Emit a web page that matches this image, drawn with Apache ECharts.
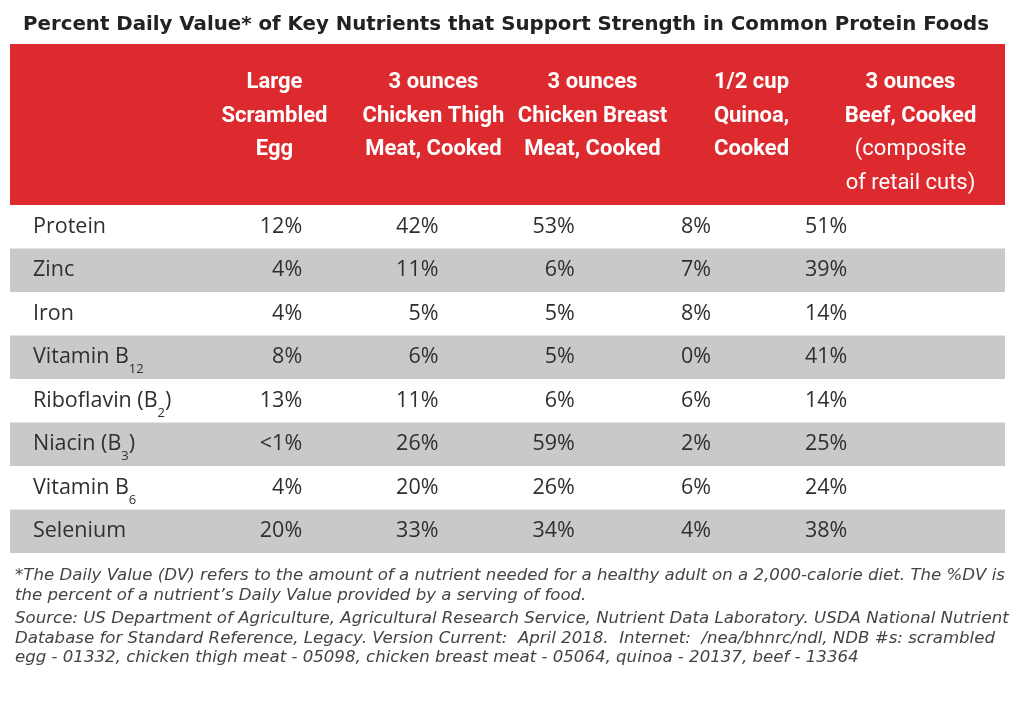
<!DOCTYPE html>
<html><head><meta charset="utf-8">
<script src="https://cdn.jsdelivr.net/npm/echarts@6/dist/echarts.min.js"></script>
<style>html,body{margin:0;padding:0;background:#fff}#c{width:1024px;height:716px}</style>
</head><body><div id="c"></div>
<script>
// ---- data ----
const titleText = 'Percent Daily Value* of Key Nutrients that Support Strength in Common Protein Foods';
const foods = ['Large\nScrambled\nEgg', '3 ounces\nChicken Thigh\nMeat, Cooked', '3 ounces\nChicken Breast\nMeat, Cooked', '1/2 cup\nQuinoa,\nCooked', '3 ounces\nBeef, Cooked'];
const foodNotes = ['', '', '', '', '(composite\nof retail cuts)'];
const nutrients = ['Protein', 'Zinc', 'Iron', 'Vitamin B_12', 'Riboflavin (B_2)', 'Niacin (B_3)', 'Vitamin B_6', 'Selenium'];
const egg    = [12, 4, 4, 8, 13, '<1', 4, 20];
const thigh  = [42, 11, 5, 6, 11, 26, 20, 33];
const breast = [53, 6, 5, 5, 6, 59, 26, 34];
const quinoa = [8, 7, 8, 0, 6, 2, 6, 4];
const beef   = [51, 39, 14, 41, 14, 25, 24, 38];
const footnote = '*The Daily Value (DV) refers to the amount of a nutrient needed for a healthy adult on a 2,000-calorie diet. The %DV is\nthe percent of a nutrient\u2019s Daily Value provided by a serving of food.';
const source = 'Source: US Department of Agriculture, Agricultural Research Service, Nutrient Data Laboratory. USDA National Nutrient\nDatabase for Standard Reference, Legacy. Version Current:  April 2018.  Internet:  /nea/bhnrc/ndl, NDB #s: scrambled\negg - 01332, chicken thigh meat - 05098, chicken breast meat - 05064, quinoa - 20137, beef - 13364';

// ---- build ----
const columns = [egg, thigh, breast, quinoa, beef];
const cells = [], cellTexts = [];
columns.forEach((col, i) => col.forEach((v, j) => { cells.push([i, j]); cellTexts.push(v + '%'); }));
const stripes = nutrients.map((n, j) => [0, j]);

const BODY_FONT = '"Open Sans", sans-serif';
const TITLE_FONT = '"DejaVu Sans", sans-serif';
const HEAD_FONT = 'Roboto, sans-serif';
const TEXT_COLOR = '#2f2f2f';
const RED = '#dd2a2f';
const GRAY = '#c8c9cb';

function nutrientLabel(v) {
  const parts = v.split('_');
  if (parts.length === 1) return '{n|' + v + '}';
  const m = parts[1].match(/^(\d+)(.*)$/);
  let s = '{n|' + parts[0] + '}{s|' + m[1] + '}';
  if (m[2]) s += '{n|' + m[2] + '}';
  return s;
}
function foodLabel(v, idx) {
  let s = v.split('\n').map(l => '{b|' + l + '}').join('\n');
  const note = foodNotes[idx];
  if (note) s += '\n' + note.split('\n').map(l => '{r|' + l + '}').join('\n');
  return s;
}

const chart = echarts.init(document.getElementById('c'), null, {renderer: 'canvas'});
chart.setOption({
  backgroundColor: '#fff',
  animation: false,
  title: [
    {text: titleText, left: 18, top: 10, textStyle: {fontFamily: TITLE_FONT, fontWeight: 'bold', fontSize: 19.8, color: '#222'}},
    {text: footnote, left: 10, top: 561, textStyle: {fontFamily: TITLE_FONT, fontStyle: 'italic', fontWeight: 'normal', fontSize: 16.6, lineHeight: 20, color: '#444'}},
    {text: source, left: 10, top: 604, textStyle: {fontFamily: TITLE_FONT, fontStyle: 'italic', fontWeight: 'normal', fontSize: 16.6, lineHeight: 19.5, color: '#444'}}
  ],
  grid: [
    {id: 'bg', left: 10, right: 19, top: 44, height: 161, show: true, backgroundColor: RED, borderWidth: 0},
    {id: 'head', left: 195, right: 34, top: 44, height: 161},
    {id: 'body', left: 10, right: 19, top: 205, height: 348},
    {id: 'val', left: 217, right: 125.5, top: 205, height: 348}
  ],
  xAxis: [
    {gridIndex: 0, type: 'value', show: false, min: 0, max: 1},
    {gridIndex: 1, type: 'category', data: foods, position: 'top',
      axisLine: {show: false}, axisTick: {show: false}, splitLine: {show: false},
      axisLabel: {inside: true, margin: 22, verticalAlign: 'top', interval: 0, align: 'center',
        formatter: foodLabel,
        rich: {
          b: {fontFamily: HEAD_FONT, fontWeight: 'bold', fontSize: 22, lineHeight: 33.5, color: '#fff', align: 'center'},
          r: {fontFamily: HEAD_FONT, fontWeight: 'normal', fontSize: 22, lineHeight: 33.5, color: '#fff', align: 'center'}
        }}},
    {gridIndex: 2, type: 'value', show: false, min: 0, max: 1},
    {gridIndex: 3, type: 'category', data: foods, show: false}
  ],
  yAxis: [
    {gridIndex: 0, type: 'value', show: false, min: 0, max: 1},
    {gridIndex: 1, type: 'value', show: false, min: 0, max: 1},
    {gridIndex: 2, type: 'category', data: nutrients, inverse: true, show: false},
    {gridIndex: 3, type: 'category', data: nutrients, inverse: true, z: 10,
      axisLine: {show: false}, axisTick: {show: false}, splitLine: {show: false},
      axisLabel: {align: 'left', margin: 184, interval: 0, formatter: nutrientLabel,
        rich: {
          n: {fontFamily: BODY_FONT, fontSize: 21.5, lineHeight: 38, color: TEXT_COLOR},
          s: {fontFamily: BODY_FONT, fontSize: 13, lineHeight: 13, verticalAlign: 'bottom', color: TEXT_COLOR}
        }}}
  ],
  series: [
    {type: 'custom', name: 'stripes', xAxisIndex: 2, yAxisIndex: 2, data: stripes, z: 0, silent: true,
      renderItem: function (params, api) {
        const j = api.value(1);
        if (j % 2 === 0) return null;
        const p = api.coord([0, j]);
        const h = api.size([0, 1])[1];
        return {type: 'rect', shape: {x: params.coordSys.x, y: p[1] - h / 2, width: params.coordSys.width, height: h},
          style: {fill: GRAY}};
      }},
    {type: 'custom', name: 'values', xAxisIndex: 3, yAxisIndex: 3, data: cells, z: 3, silent: true,
      renderItem: function (params, api) {
        const p = api.coord([api.value(0), api.value(1)]);
        return {type: 'text', x: p[0] + 17, y: p[1],
          style: {text: cellTexts[params.dataIndex], fill: TEXT_COLOR, font: '21.5px ' + BODY_FONT,
            textAlign: 'right', textVerticalAlign: 'middle'}};
      }}
  ]
});
</script></body></html>
